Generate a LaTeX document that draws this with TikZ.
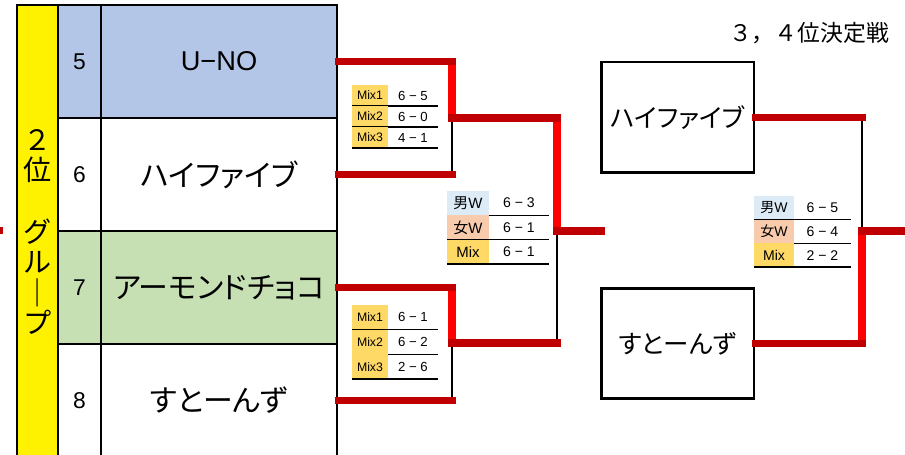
\documentclass[tikz,border=0pt]{standalone}
\usepackage{fontspec}
\setmainfont{Liberation Sans}
\newfontfamily\jp{Noto Sans CJK JP}
\newfontfamily\jpp[RawFeature=+palt]{Noto Sans CJK JP}
\newcommand\bigjp{\jpp\fontsize{17}{19}\selectfont}
\usetikzlibrary{positioning}
\definecolor{dred}{HTML}{C00000}
\definecolor{bred}{HTML}{FF0000}
\definecolor{seedblue}{HTML}{B4C6E7}
\definecolor{seedgreen}{HTML}{C6E0B4}
\definecolor{gold}{HTML}{FFD966}
\definecolor{menblue}{HTML}{DDEBF7}
\definecolor{womenpeach}{HTML}{F8CBAD}
\tikzset{
	cell/.style = {draw, line width=1.6pt, inner sep=0pt, minimum height=2.26cm},
	num/.style = {cell, minimum width=0.86cm, font=\fontsize{13}{15}\selectfont},
	team/.style = {cell, minimum width=4.72cm, font=\fontsize{15.5}{17}\selectfont},
	box/.style = {draw, line width=1.7pt, inner sep=0pt, minimum width=3.06cm, minimum height=2.22cm, font=\jpp\fontsize{14.5}{17}\selectfont},
	lab/.style = {inner sep=0pt, outer sep=0pt, anchor=north west},
	sc/.style = {inner sep=0pt, outer sep=0pt},
	rule/.style = {line width=0.9pt},
	lose/.style = {line width=1.3pt},
	upv/.style = {line width=4.4pt, bred},
	winh/.style = {line width=4.4pt, dred, shorten <=-2.2pt, shorten >=-2.2pt}
}

\begin{document}
\begin{tikzpicture}[x=0.02cm, y=-0.02cm]
	\useasboundingbox (0,0) rectangle (905,455);
	\clip (0,0) rectangle (905,455);
	\fill[dred] (0,227) rectangle (3,234);
	\node[cell, fill=yellow, minimum width=0.82cm, minimum height=9.3cm] (grp) at (37.5,237.5) {};
	\node[font=\jp\fontsize{16}{17.4}\selectfont, align=center, inner sep=0pt] (grptxt) at (37.5,232) {２\\位\\[17.4pt]グ\\ル\\｜\\プ};
	\foreach \k/\who/\col [count=\i] in {5/U−NO/seedblue, 6/{\bigjp ハイファイブ}/white, 7/{\bigjp アーモンドチョコ}/seedgreen, 8/{\bigjp すとーんず}/white}{
		\node[num, fill=\col] (k\k) at (79.5, {61.5+113*(\i-1)}) {\k};
		\node[team, fill=\col] (n\k) at (219, {61.5+113*(\i-1)}) {\who};
	}

	\foreach \l/\a/\b [count=\i] in {Mix1/6/5, Mix2/6/0, Mix3/4/1}{
		\node[lab, fill=gold, minimum width=0.72cm, minimum height=0.42cm, font=\fontsize{7}{8}\selectfont] (sa\i) at (352, {85+21*(\i-1)}) {\l};
		\node[sc, right=0pt of sa\i, minimum width=1cm, minimum height=0.42cm, font=\fontsize{7.5}{8}\selectfont] (sas\i) {\a\ −\ \b};
		\draw[rule] (sa\i.south west) -- (sas\i.south east);
	}
	\foreach \l/\a/\b [count=\i] in {Mix1/6/1, Mix2/6/2, Mix3/2/6}{
		\node[lab, fill=gold, minimum width=0.72cm, minimum height=0.494cm, font=\fontsize{7}{8}\selectfont] (sb\i) at (352, {305+24.7*(\i-1)}) {\l};
		\node[sc, right=0pt of sb\i, minimum width=1cm, minimum height=0.494cm, font=\fontsize{7.5}{8}\selectfont] (sbs\i) {\a\ −\ \b};
		\draw[rule] (sb\i.south west) -- (sbs\i.south east);
	}
	\foreach \l/\a/\b/\c [count=\i] in {{\jp 男}W/6/3/menblue, {\jp 女}W/6/1/womenpeach, Mix/6/1/gold}{
		\node[lab, fill=\c, minimum width=0.84cm, minimum height=0.486cm, font=\fontsize{8.5}{9}\selectfont] (sc\i) at (447, {191+24.3*(\i-1)}) {\l};
		\node[sc, right=0pt of sc\i, minimum width=1.2cm, minimum height=0.486cm, font=\fontsize{8}{9}\selectfont] (scs\i) {\a\ −\ \b};
		\draw[rule] (sc\i.south west) -- (scs\i.south east);
	}
	\foreach \l/\a/\b/\c [count=\i] in {{\jp 男}W/6/5/menblue, {\jp 女}W/6/4/womenpeach, Mix/2/2/gold}{
		\node[lab, fill=\c, minimum width=0.8cm, minimum height=0.474cm, font=\fontsize{8}{9}\selectfont] (sd\i) at (754, {196+23.7*(\i-1)}) {\l};
		\node[sc, right=0pt of sd\i, minimum width=1.14cm, minimum height=0.474cm, font=\fontsize{8}{9}\selectfont] (sds\i) {\a\ −\ \b};
		\draw[rule] (sd\i.south west) -- (sds\i.south east);
	}

	\node[font=\jp\fontsize{13}{15}\selectfont] (ttl) at (809,33) {３，４位決定戦};
	\node[box] (hf) at (677.5,117.5) {ハイファイブ};
	\node[box] (st) at (677.5,343.5) {すとーんず};

	\coordinate (w1) at (452,118);
	\coordinate (a1) at (n5.east -| w1);
	\coordinate (a2) at (n6.east -| w1);
	\coordinate (w2) at (452,343);
	\coordinate (b1) at (n7.east -| w2);
	\coordinate (b2) at (n8.east -| w2);
	\coordinate (w3) at (557,231);
	\coordinate (c1) at (w1 -| w3);
	\coordinate (c2) at (w2 -| w3);
	\coordinate (f3) at (601,231);
	\coordinate (w4) at (862,231);
	\coordinate (d1) at (hf.east -| w4);
	\coordinate (d2) at (st.east -| w4);
	\coordinate (f4) at (905,231);

	\draw[upv] (a1) -- (w1);
	\draw[lose] (w1) -- (a2);
	\draw[upv] (b1) -- (w2);
	\draw[lose] (w2) -- (b2);
	\draw[upv] (c1) -- (w3);
	\draw[lose] (w3) -- (c2);
	\draw[lose] (d1) -- (w4);
	\draw[upv] (w4) -- (d2);

	\draw[winh] (n5.east) -- (a1);
	\draw[winh] (n6.east) -- (a2);
	\draw[winh] (n7.east) -- (b1);
	\draw[winh] (n8.east) -- (b2);
	\draw[winh] (w1) -- (c1);
	\draw[winh] (w2) -- (c2);
	\draw[winh] (w3) -- (f3);
	\draw[winh] (hf.east) -- (d1);
	\draw[winh] (st.east) -- (d2);
	\draw[winh] (w4) -- (f4);
\end{tikzpicture}
\end{document}
